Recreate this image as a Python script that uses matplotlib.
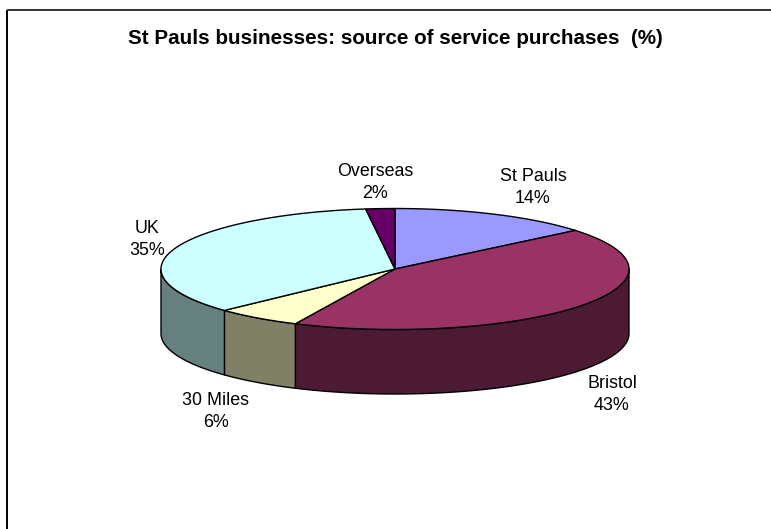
import numpy as np
import matplotlib
matplotlib.use("Agg")
import matplotlib.pyplot as plt
from matplotlib.patches import Polygon

plt.rcParams['font.family'] = ['Liberation Sans', 'DejaVu Sans']

# Share of service purchases by source, clockwise from twelve o'clock
categories = ["St Pauls", "Bristol", "30 Miles", "UK", "Overseas"]
shares = [14, 43, 6, 35, 2]
top_colors = ["#9999FF", "#993366", "#FFFFCC", "#CCFFFF", "#660066"]
side_colors = ["#4D4D80", "#4D1A33", "#808066", "#668080", "#330033"]
title_text = "St Pauls businesses: source of service purchases  (%)"

W, H = 771, 529
CX, CY, RX, RY, DEPTH = 395.0, 269.0, 234.0, 60.5, 64.5
LABEL_POS = {
    "St Pauls": (533, 186),
    "Bristol": (612, 393),
    "30 Miles": (216, 410),
    "UK": (147, 238),
    "Overseas": (375, 181),
}

fig = plt.figure(figsize=(W / 100, H / 100), dpi=100)
ax = fig.add_axes([0, 0, 1, 1])
ax.set_xlim(0, W)
ax.set_ylim(H, 0)
ax.axis("off")


def rim(a0, a1, n=200):
    """Points on the top ellipse between two clockwise angles from north."""
    t = np.linspace(a0, a1, n)
    return np.column_stack([CX + RX * np.sin(t), CY - RY * np.cos(t)])


# Cumulative wedge boundaries in radians
edges = np.concatenate([[0], np.cumsum(shares)]) / np.sum(shares) * 2 * np.pi

# Side walls are only visible on the front half of the disc (pi/2 to 3pi/2)
for a0, a1, col in zip(edges[:-1], edges[1:], side_colors):
    lo, hi = max(a0, np.pi / 2), min(a1, 3 * np.pi / 2)
    if lo >= hi:
        continue
    upper = rim(lo, hi)
    lower = upper[::-1] + [0, DEPTH]
    ax.add_patch(Polygon(np.vstack([upper, lower]), closed=True, facecolor=col,
                         edgecolor="black", linewidth=1.0, joinstyle="round"))

# Top faces
for a0, a1, col in zip(edges[:-1], edges[1:], top_colors):
    pts = np.vstack([[CX, CY], rim(a0, a1)])
    ax.add_patch(Polygon(pts, closed=True, facecolor=col, edgecolor="black",
                         linewidth=1.0, joinstyle="round"))

# Category labels with their percentages
for name, val in zip(categories, shares):
    x, y = LABEL_POS[name]
    ax.text(x, y + 1.5, f"{name}\n{val}%", ha="center", va="center", fontsize=12.9,
            color="black", linespacing=1.42)

ax.text(395, 39, title_text, ha="center", va="center", fontsize=14.85,
        fontweight="bold", color="black")

# Chart frame, showing only along the top and left
ax.plot([7, 7], [H, 9.5], color="black", linewidth=1.4, solid_capstyle="butt")
ax.plot([7, W], [9.5, 9.5], color="#333333", linewidth=1.4, solid_capstyle="butt")

fig.savefig("out.png", dpi=100)
